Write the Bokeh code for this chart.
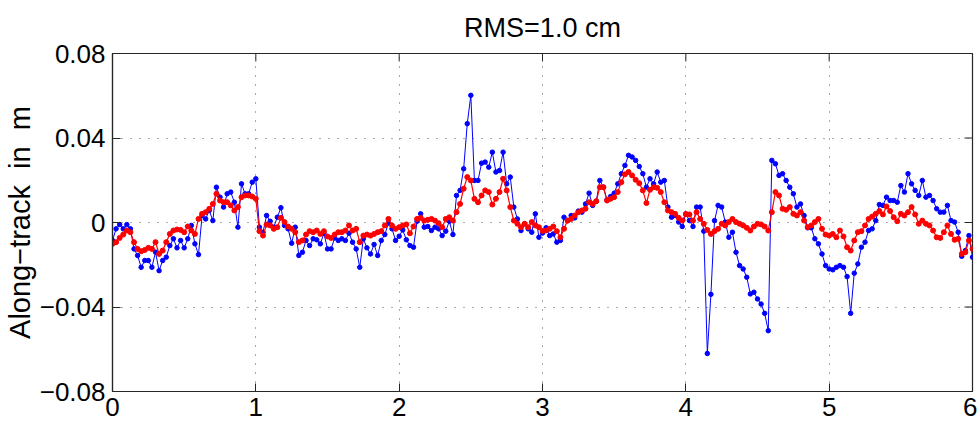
import numpy as np
from bokeh.plotting import figure
from bokeh.models import FixedTicker, Range1d, ColumnDataSource
from bokeh.embed import file_html
from bokeh.resources import INLINE

# Along-track residuals sampled every 0.025 on the horizontal axis (0 .. 6)
x_step = 0.025
n_samples = 241

# blue series (raw residuals), one block per unit of the horizontal axis
blue_0 = [-0.0085, -0.0030, -0.0010, -0.0030, -0.0010, -0.0030, -0.0125, -0.0156, -0.0212, -0.0180,
          -0.0180, -0.0212, -0.0140, -0.0228, -0.0180, -0.0164, -0.0109, -0.0077, -0.0120, -0.0085,
          -0.0120, -0.0077, -0.0014, -0.0101, -0.0152, 0.0033, 0.0017, 0.0057, 0.0009, 0.0167,
          0.0120, 0.0073, 0.0136, 0.0144, 0.0096, -0.0022, 0.0183, 0.0136, 0.0136, 0.0191]
blue_1 = [0.0207, -0.0022, -0.0046, 0.0033, 0.0006, -0.0022, 0.0025, 0.0070, -0.0014, -0.0030,
          -0.0098, -0.0022, -0.0156, -0.0141, -0.0085, -0.0109, -0.0077, -0.0082, -0.0101, -0.0051,
          -0.0125, -0.0125, -0.0073, -0.0085, -0.0077, -0.0085, -0.0051, -0.0093, -0.0125, -0.0212,
          -0.0077, -0.0120, -0.0149, -0.0104, -0.0156, -0.0085, -0.0057, -0.0003, -0.0030, -0.0085]
blue_2 = [-0.0065, -0.0035, -0.0082, -0.0109, -0.0117, 0.0006, 0.0041, -0.0022, -0.0019, -0.0038,
          -0.0022, -0.0030, -0.0062, -0.0041, 0.0006, -0.0057, 0.0128, 0.0152, 0.0254, 0.0468,
          0.0602, 0.0199, 0.0199, 0.0281, 0.0286, 0.0262, 0.0333, 0.0239, 0.0246, 0.0333,
          0.0183, 0.0215, 0.0073, 0.0017, -0.0038, -0.0006, -0.0030, -0.0046, 0.0041, -0.0070]
blue_3 = [-0.0050, -0.0025, -0.0062, -0.0054, -0.0093, -0.0085, 0.0025, 0.0009, 0.0033, 0.0022,
          0.0054, 0.0049, 0.0088, 0.0139, 0.0081, 0.0101, 0.0199, 0.0167, 0.0107, 0.0123,
          0.0139, 0.0183, 0.0231, 0.0270, 0.0318, 0.0310, 0.0294, 0.0265, 0.0231, 0.0167,
          0.0207, 0.0183, 0.0239, 0.0191, 0.0199, 0.0073, 0.0025, 0.0033, 0.0002, -0.0019]
blue_4 = [0.0040, 0.0009, -0.0019, 0.0073, 0.0073, -0.0041, -0.0620, -0.0340, 0.0009, 0.0081,
          0.0073, 0.0002, -0.0070, -0.0046, -0.0141, -0.0204, -0.0220, -0.0259, -0.0338, -0.0330,
          -0.0362, -0.0386, -0.0430, -0.0512, 0.0294, 0.0278, 0.0223, 0.0231, 0.0199, 0.0167,
          0.0136, 0.0073, 0.0088, 0.0033, -0.0025, -0.0025, -0.0077, -0.0101, -0.0149, -0.0204]
blue_5 = [-0.0220, -0.0224, -0.0212, -0.0204, -0.0212, -0.0256, -0.0430, -0.0240, -0.0196, -0.0117,
          -0.0093, -0.0038, -0.0030, 0.0009, 0.0085, 0.0081, 0.0120, 0.0104, 0.0104, 0.0096,
          0.0175, 0.0144, 0.0231, 0.0183, 0.0152, 0.0128, 0.0199, 0.0120, 0.0128, 0.0104,
          0.0065, 0.0049, 0.0049, 0.0081, 0.0009, 0.0002, -0.0046, -0.0160, -0.0133, -0.0062,
          -0.0164]

# red series (smoothed residuals)
red_0 = [-0.0101, -0.0093, -0.0073, -0.0057, -0.0038, -0.0046, -0.0093, -0.0125, -0.0136, -0.0130,
         -0.0120, -0.0125, -0.0093, -0.0149, -0.0133, -0.0093, -0.0054, -0.0038, -0.0033, -0.0035,
         -0.0046, -0.0019, -0.0038, -0.0054, 0.0017, 0.0041, 0.0049, 0.0065, 0.0088, 0.0136,
         0.0104, 0.0096, 0.0096, 0.0081, 0.0057, 0.0073, 0.0120, 0.0128, 0.0128, 0.0123]
red_1 = [0.0112, -0.0041, -0.0062, -0.0010, -0.0014, -0.0030, -0.0022, 0.0022, 0.0002, -0.0019,
         -0.0030, -0.0046, -0.0093, -0.0085, -0.0057, -0.0041, -0.0046, -0.0038, -0.0054, -0.0041,
         -0.0066, -0.0073, -0.0057, -0.0046, -0.0046, -0.0038, -0.0014, -0.0038, -0.0030, -0.0093,
         -0.0062, -0.0057, -0.0062, -0.0054, -0.0046, -0.0041, -0.0014, 0.0017, -0.0014, -0.0030]
red_2 = [-0.0022, -0.0014, -0.0009, -0.0051, -0.0019, 0.0017, 0.0022, 0.0009, 0.0013, 0.0017,
         0.0009, -0.0003, -0.0022, 0.0017, 0.0025, 0.0009, 0.0049, 0.0088, 0.0160, 0.0215,
         0.0199, 0.0112, 0.0096, 0.0128, 0.0152, 0.0144, 0.0085, 0.0112, 0.0144, 0.0207,
         0.0152, 0.0073, 0.0009, -0.0006, -0.0022, -0.0006, -0.0022, 0.0002, -0.0014, -0.0022]
red_3 = [-0.0040, -0.0038, -0.0030, -0.0019, -0.0041, -0.0070, -0.0030, 0.0009, 0.0017, 0.0033,
         0.0049, 0.0057, 0.0065, 0.0096, 0.0088, 0.0101, 0.0167, 0.0167, 0.0104, 0.0112,
         0.0120, 0.0144, 0.0191, 0.0228, 0.0239, 0.0223, 0.0202, 0.0186, 0.0152, 0.0092,
         0.0155, 0.0167, 0.0164, 0.0144, 0.0096, 0.0057, 0.0049, 0.0041, 0.0022, 0.0009]
red_4 = [0.0040, 0.0038, 0.0009, 0.0049, 0.0017, -0.0006, -0.0035, -0.0054, -0.0041, -0.0030,
         -0.0006, -0.0014, 0.0002, 0.0017, 0.0002, -0.0006, -0.0014, -0.0025, -0.0038, -0.0019,
         -0.0006, -0.0009, -0.0019, -0.0038, 0.0049, 0.0144, 0.0128, 0.0065, 0.0060, 0.0073,
         0.0041, 0.0033, 0.0049, 0.0009, -0.0022, -0.0014, 0.0002, 0.0017, -0.0030, -0.0057]
red_5 = [-0.0062, -0.0054, -0.0070, -0.0038, -0.0066, -0.0117, -0.0133, -0.0085, -0.0046, -0.0041,
         -0.0014, 0.0017, 0.0028, 0.0041, 0.0054, 0.0038, 0.0076, 0.0054, 0.0025, 0.0006,
         0.0041, 0.0033, 0.0049, 0.0073, 0.0038, -0.0006, 0.0009, -0.0006, -0.0014, -0.0038,
         -0.0070, -0.0073, -0.0046, -0.0014, -0.0054, -0.0082, -0.0077, -0.0149, -0.0141, -0.0085,
         -0.0125]

x_ticks = [0, 1, 2, 3, 4, 5, 6]
x_labels = ["0", "1", "2", "3", "4", "5", "6"]
y_ticks = [-0.08, -0.04, 0, 0.04, 0.08]
y_labels = ["\u22120.08", "\u22120.04", "0", "0.04", "0.08"]

title_text = "RMS=1.0 cm"
y_title = "Along\u2212track\u00a0\u00a0in\u00a0\u00a0m"

blue = blue_0 + blue_1 + blue_2 + blue_3 + blue_4 + blue_5
red = red_0 + red_1 + red_2 + red_3 + red_4 + red_5
x = np.arange(n_samples) * x_step

src = ColumnDataSource(dict(x=x, blue=blue, red=red))

FONT = "Liberation Sans"
AX = "#262626"
X_MIN, X_MAX = 0, 6
Y_MIN, Y_MAX = -0.08, 0.08

p = figure(width=977, height=427, output_backend="svg", toolbar_location=None,
           x_range=Range1d(X_MIN, X_MAX), y_range=Range1d(Y_MIN, Y_MAX),
           min_border_left=112, min_border_right=5, min_border_top=53, min_border_bottom=36,
           background_fill_color="white", border_fill_color="white",
           outline_line_color=AX, outline_line_width=1.2)

p.title.text = title_text
p.title.align = "center"
p.title.vertical_align = "top"
p.title.text_font = FONT
p.title.text_font_size = "27px"
p.title.text_font_style = "normal"
p.title.text_color = "black"
p.title.text_line_height = 0.8
p.title.standoff = 18

for ax, ticks, labels in ((p.xaxis[0], x_ticks, x_labels), (p.yaxis[0], y_ticks, y_labels)):
    ax.ticker = FixedTicker(ticks=ticks)
    ax.major_label_overrides = {t: l for t, l in zip(ticks, labels)}
    ax.major_label_text_font = FONT
    ax.major_label_text_font_size = "26px"
    ax.major_label_text_color = "black"
    ax.major_tick_in = 8
    ax.major_tick_out = 0
    ax.minor_tick_line_color = None
    ax.axis_line_color = AX
    ax.major_tick_line_color = AX
    ax.axis_line_width = 1.2

p.xaxis.major_label_standoff = 6
p.yaxis.major_label_standoff = 7
p.yaxis.axis_label = y_title
p.yaxis.axis_label_text_font = FONT
p.yaxis.axis_label_text_font_size = "29px"
p.yaxis.axis_label_text_font_style = "normal"
p.yaxis.axis_label_text_color = "black"
p.yaxis.axis_label_standoff = 1

for g, ticks in ((p.xgrid[0], x_ticks), (p.ygrid[0], y_ticks)):
    g.ticker = FixedTicker(ticks=ticks)
    g.grid_line_color = "#555555"
    g.grid_line_dash = "1 8"
    g.grid_line_width = 1

# inward tick marks on the top and right edges of the box (half of each dash is clipped away)
p.scatter(x_ticks, [Y_MAX] * len(x_ticks), marker="dash", angle=np.pi / 2, size=16,
          line_color=AX, line_width=1)
p.scatter([X_MAX] * len(y_ticks), y_ticks, marker="dash", size=16,
          line_color=AX, line_width=1)

p.line("x", "blue", source=src, line_color="#0000ff", line_width=1)
p.scatter("x", "blue", source=src, size=4.5, fill_color="#0000ff", line_color="#0000ff")
p.line("x", "red", source=src, line_color="#ff0000", line_width=1.2)
p.scatter("x", "red", source=src, size=5, fill_color="#ff0000", line_color="#ff0000")

open("out.html", "w").write(file_html(p, INLINE))
